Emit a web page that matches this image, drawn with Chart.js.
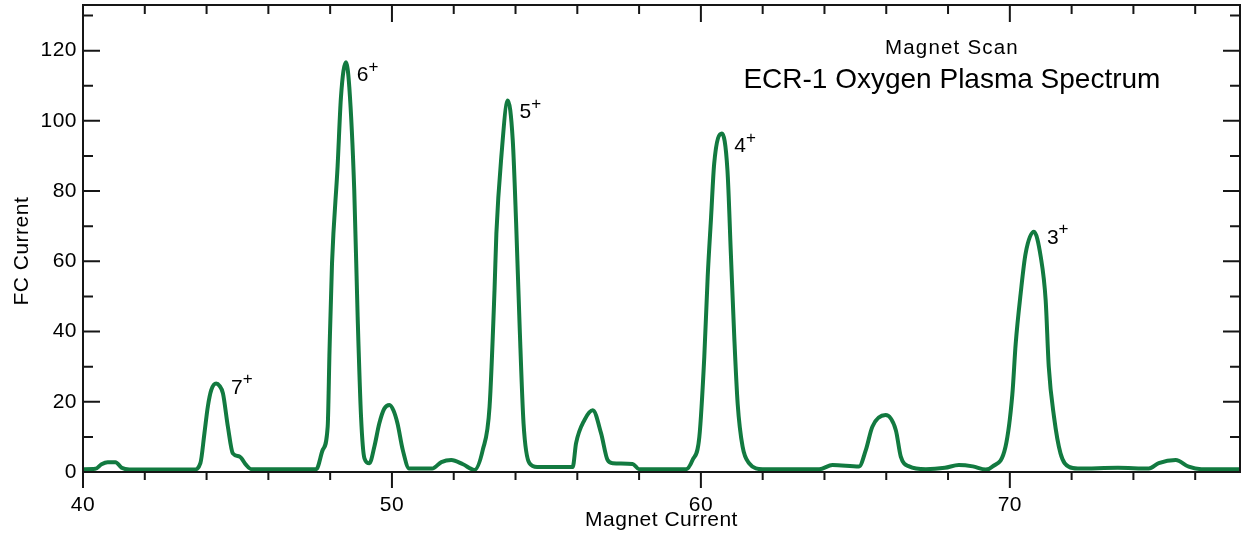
<!DOCTYPE html>
<html>
<head>
<meta charset="utf-8">
<script src="https://cdn.jsdelivr.net/npm/chart.js@4.4.0/dist/chart.umd.min.js"></script>
<style>
  html, body { margin: 0; padding: 0; background: #fff; }
  #wrap { width: 1243px; height: 541px; position: relative; }
</style>
</head>
<body>
<div id="wrap"><canvas id="spectrum"></canvas></div>
<script>
// magnet scan
const magnetCurrent = [
  40.00, 40.40, 40.60, 40.80, 41.05, 41.25, 41.50,
  43.60, 43.80, 43.93, 44.04, 44.15, 44.31, 44.42, 44.53, 44.69, 44.85, 45.07, 45.28, 45.45,
  47.55, 47.76, 47.92, 47.98, 48.06, 48.24, 48.35, 48.51, 48.62, 48.78, 48.89, 49.00, 49.11,
  49.27, 49.43, 49.59, 49.75, 49.92, 50.05, 50.18, 50.35, 50.56,
  51.30, 51.60, 51.92, 52.30, 52.67,
  52.94, 53.16, 53.32, 53.38, 53.54, 53.75, 53.91, 54.02, 54.13, 54.26, 54.45, 54.70,
  55.85, 55.96, 56.23, 56.50, 56.77, 56.98, 57.15, 57.79, 58.00,
  59.52, 59.73, 59.95, 60.11, 60.22, 60.33, 60.43, 60.68, 60.86, 60.97, 61.08, 61.19, 61.35, 61.56, 62.00,
  63.83, 64.26, 65.12, 65.34, 65.55, 65.98, 66.31, 66.47, 66.74, 67.28,
  67.90, 68.35, 68.80, 69.22, 69.43, 69.86, 70.08, 70.19, 70.35, 70.51, 70.78, 71.00, 71.16,
  71.26, 71.43, 71.64, 71.91, 72.20,
  73.50, 74.50, 74.82, 75.37, 75.79, 76.20, 77.45
]
const fcCurrent = [
  0.8, 0.9, 2.2, 2.8, 2.8, 1.2, 0.7,
  0.7, 2.5, 11.0, 18.6, 23.3, 25.2, 24.5, 22.4, 12.9, 5.3, 4.4, 2.0, 0.8,
  0.8, 6.3, 12.9, 34.7, 59.4, 86.9, 106.8, 116.7, 109.6, 80.2, 44.2, 15.7, 3.9,
  2.5, 7.2, 13.8, 18.0, 19.1, 17.5, 13.8, 6.3, 1.0,
  1.0, 2.8, 3.4, 2.2, 0.6,
  6.3, 18.6, 51.8, 67.9, 89.7, 105.8, 94.5, 70.8, 42.3, 13.8, 2.5, 1.4,
  1.4, 8.2, 14.8, 17.6, 11.0, 3.4, 2.5, 2.3, 0.8,
  0.8, 3.4, 10.0, 32.8, 55.6, 72.6, 87.8, 96.4, 85.9, 62.2, 38.5, 19.5, 7.2, 2.5, 0.8,
  0.8, 2.0, 1.6, 6.3, 12.9, 16.2, 11.9, 4.4, 1.6, 0.8,
  1.2, 2.0, 1.6, 0.7, 1.5, 7.2, 22.0, 36.6, 50.8, 62.2, 68.4, 61.3, 48.9,
  30.0, 15.7, 5.3, 1.5, 1.0,
  1.2, 1.0, 2.5, 3.4, 1.5, 0.8, 0.8
]

// charge state labels, anchored next to each peak
const chargeStates = ['7', '6', '5', '4', '3']
const chargeLabelX = [44.79, 48.86, 54.13, 61.08, 71.20]
const chargeLabelY = [24.0, 112.9, 102.5, 92.8, 66.7]

const xTicks = [40, 50, 60, 70]
const yTicks = [0, 20, 40, 60, 80, 100, 120]

const ink = '#000'
const frameInk = '#161616'
const green = '#127a40'
const family = '"Liberation Sans", Arial, Helvetica, sans-serif'

// box frame with minor ticks, labels drawn over the data
const frameTicks = {
  id: 'frameTicks',
  beforeDraw(chart) {
    chart.ctx.letterSpacing = '0.5px'
  },
  afterDatasetsDraw(chart) {
    const { ctx, chartArea: a, scales: { x, y } } = chart
    ctx.save()
    ctx.strokeStyle = frameInk
    ctx.lineWidth = 2
    ctx.strokeRect(a.left, a.top, a.right - a.left, a.bottom - a.top)

    ctx.beginPath()
    for (let v = 40; v <= x.max; v += 2) {
      const px = x.getPixelForValue(v)
      const len = v % 10 === 0 ? 16 : 8
      ctx.moveTo(px, a.bottom)
      ctx.lineTo(px, a.bottom + len)
      ctx.moveTo(px, a.top)
      ctx.lineTo(px, a.top + len + 1)
    }
    for (let v = 0; v <= y.max; v += 10) {
      const py = y.getPixelForValue(v)
      const len = v % 20 === 0 ? 17 : 10
      ctx.moveTo(a.left, py)
      ctx.lineTo(a.left + len, py)
      ctx.moveTo(a.right, py)
      ctx.lineTo(a.right - len, py)
    }
    ctx.stroke()

    ctx.fillStyle = ink
    ctx.textAlign = 'center'
    ctx.textBaseline = 'alphabetic'
    const cx = a.left + 0.751 * (a.right - a.left)
    ctx.letterSpacing = '1.2px'
    ctx.font = '20.5px ' + family
    ctx.fillText('Magnet Scan', cx, a.top + 49)
    ctx.letterSpacing = '0px'
    ctx.font = '28px ' + family
    ctx.fillText('ECR-1 Oxygen Plasma Spectrum', cx, a.top + 83)

    ctx.textAlign = 'left'
    ctx.textBaseline = 'middle'
    chargeStates.forEach((q, i) => {
      const px = x.getPixelForValue(chargeLabelX[i])
      const py = y.getPixelForValue(chargeLabelY[i])
      ctx.font = '21px ' + family
      ctx.fillText(q, px, py)
      const w = ctx.measureText(q).width
      ctx.font = '17px ' + family
      ctx.fillText('+', px + w, py - 8)
    })
    ctx.restore()
  }
}

new Chart(document.getElementById('spectrum'), {
  type: 'line',
  data: {
    datasets: [{
      data: magnetCurrent.map((m, i) => ({ x: m, y: fcCurrent[i] })),
      borderColor: green,
      borderWidth: 4,
      pointRadius: 0,
      cubicInterpolationMode: 'monotone',
      fill: false
    }]
  },
  options: {
    responsive: true,
    maintainAspectRatio: false,
    animation: false,
    layout: { padding: { top: 5, right: 3, left: 0, bottom: 0 } },
    plugins: {
      legend: { display: false },
      tooltip: { enabled: false }
    },
    scales: {
      x: {
        type: 'linear',
        min: 40,
        max: 77.45,
        afterBuildTicks: (s) => { s.ticks = xTicks.map((v) => ({ value: v })) },
        afterFit: (s) => {
          s.height = 69
          s.paddingLeft = 0
          s.paddingRight = 0
        },
        grid: { display: false, drawTicks: false },
        border: { display: false },
        ticks: {
          padding: 21,
          color: ink,
          font: { family, size: 21 }
        },
        title: {
          display: true,
          text: 'Magnet Current',
          color: ink,
          font: { family, size: 21 },
          padding: { top: 0, bottom: 8 }
        }
      },
      y: {
        min: 0,
        max: 133,
        afterBuildTicks: (s) => { s.ticks = yTicks.map((v) => ({ value: v })) },
        afterFit: (s) => {
          s.width = 83
          s.paddingTop = 0
          s.paddingBottom = 0
        },
        grid: { display: false, drawTicks: false },
        border: { display: false },
        ticks: {
          padding: 6,
          color: ink,
          font: { family, size: 21 }
        },
        title: {
          display: true,
          text: 'FC Current    ',
          color: ink,
          font: { family, size: 21 },
          padding: { top: 10, bottom: 0 }
        }
      }
    }
  },
  plugins: [frameTicks]
})
</script>
</body>
</html>
